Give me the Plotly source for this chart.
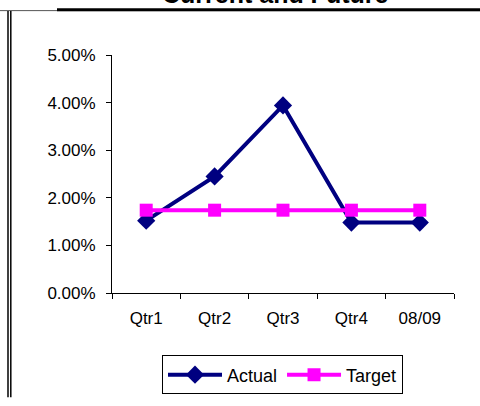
import plotly.graph_objects as go

categories = ["Qtr1", "Qtr2", "Qtr3", "Qtr4", "08/09"]
actual = [0.0152, 0.0245, 0.0394, 0.0148, 0.0148]
target = [0.0174, 0.0174, 0.0174, 0.0174, 0.0174]
y_ticks = [0, 0.01, 0.02, 0.03, 0.04, 0.05]

W, H = 480, 406
L, R, T, B = 112, 26, 55, 107
PW, PH = W - L - R, H - T - B


def px(x):
    return (x - L) / PW


def py(y):
    return (H - B - y) / PH


FONT = "Liberation Sans, Arial, sans-serif"

fig = go.Figure()
fig.add_trace(go.Scatter(
    x=categories, y=actual, name="Actual", mode="lines+markers",
    line=dict(color="#000080", width=4),
    marker=dict(symbol="diamond", size=14, color="#000080"),
))
fig.add_trace(go.Scatter(
    x=categories, y=target, name="Target", mode="lines+markers",
    line=dict(color="#FF00FF", width=4),
    marker=dict(symbol="square", size=13, color="#FF00FF"),
))

fig.update_layout(
    width=W, height=H,
    margin=dict(l=L, r=R, t=T, b=B, pad=0),
    paper_bgcolor="white", plot_bgcolor="white",
    font=dict(family=FONT, size=17, color="black"),
    showlegend=True,
    legend=dict(
        orientation="h", x=px(282.5), xanchor="center",
        y=py(363), yanchor="top",
        bordercolor="black", borderwidth=1,
        font=dict(size=18), bgcolor="white",
        itemwidth=54,
    ),
    xaxis=dict(
        type="category", range=[-0.5, 4.5], tickson="boundaries",
        ticks="outside", ticklen=5, tickcolor="black",
        showline=True, linecolor="black", linewidth=1,
        showgrid=False, zeroline=False, ticklabelstandoff=10,
    ),
    yaxis=dict(
        range=[0, 0.05], tickvals=y_ticks, tickformat=".2%",
        ticks="outside", ticklen=5, tickcolor="black",
        showline=True, linecolor="black", linewidth=1,
        showgrid=False, zeroline=False, ticklabelstandoff=7,
    ),
)

fig.add_annotation(
    text="<b>Current and Future</b>", xref="paper", yref="paper",
    x=px(275), y=py(-7.5), xanchor="center", yanchor="middle",
    showarrow=False, font=dict(size=25, family=FONT),
)

shapes = [
    dict(type="line", xref="paper", yref="paper", x0=px(0), x1=px(480),
         y0=py(9.5), y1=py(9.5), line=dict(color="#555555", width=1)),
    dict(type="line", xref="paper", yref="paper", x0=px(57), x1=px(480),
         y0=py(8.5), y1=py(8.5), line=dict(color="black", width=3)),
    dict(type="line", xref="paper", yref="paper", x0=px(8), x1=px(8),
         y0=py(10), y1=py(406), line=dict(color="black", width=1.5)),
    dict(type="line", xref="paper", yref="paper", x0=px(10.8), x1=px(10.8),
         y0=py(10), y1=py(406), line=dict(color="black", width=1.5)),
]
fig.update_layout(shapes=shapes)

fig.write_html(
    "out.html",
    config={"displayModeBar": False},
    post_script="document.body.style.margin='0';document.body.style.overflow='hidden';",
)
